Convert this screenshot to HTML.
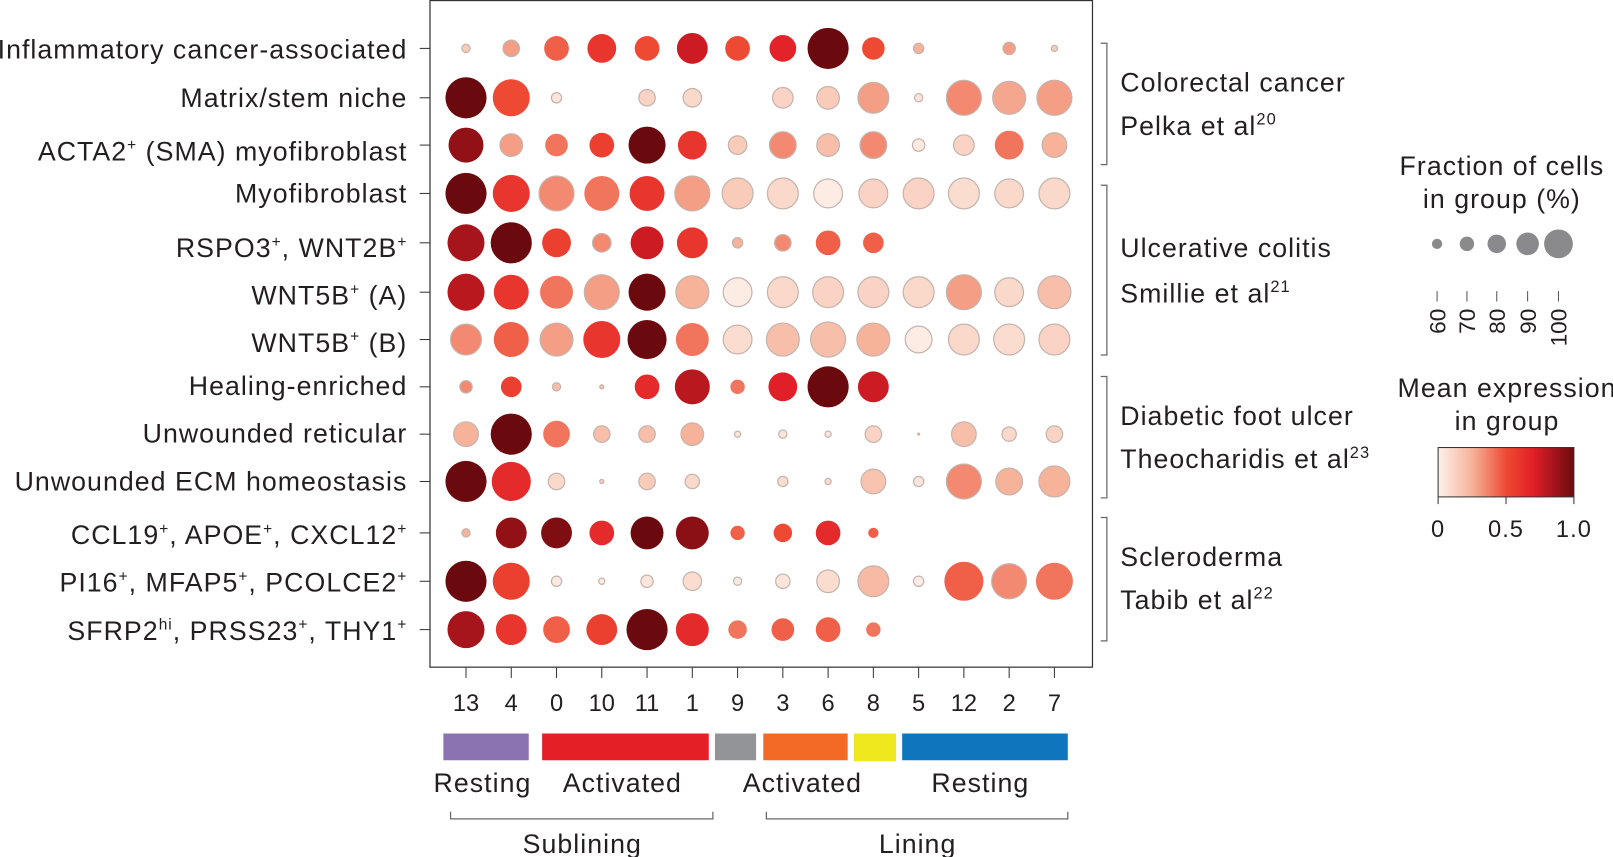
<!DOCTYPE html>
<html><head><meta charset="utf-8"><style>
html,body{margin:0;padding:0;background:#fff;}
svg{display:block;}
text{font-family:"Liberation Sans",sans-serif;fill:#231f20;}
.w{letter-spacing:1px;}
</style></head><body>
<svg id="s" width="1613" height="857" viewBox="0 0 1568 833" xmlns="http://www.w3.org/2000/svg">
<rect x="418" y="0.5" width="644" height="648" fill="none" stroke="#333" stroke-width="1.2"/>
<g font-size="26" text-anchor="end" class="w">
<text x="396" y="57">Inflammatory cancer-associated</text>
<text x="396" y="104">Matrix/stem niche</text>
<text x="396" y="156">ACTA2<tspan font-size="15" dy="-10">+</tspan><tspan dy="10"> (SMA) myofibroblast</tspan></text>
<text x="396" y="197">Myofibroblast</text>
<text x="396" y="250">RSPO3<tspan font-size="15" dy="-10">+</tspan><tspan dy="10">, WNT2B</tspan><tspan font-size="15" dy="-10">+</tspan></text>
<text x="396" y="296">WNT5B<tspan font-size="15" dy="-10">+</tspan><tspan dy="10"> (A)</tspan></text>
<text x="396" y="342">WNT5B<tspan font-size="15" dy="-10">+</tspan><tspan dy="10"> (B)</tspan></text>
<text x="396" y="384">Healing-enriched</text>
<text x="396" y="430">Unwounded reticular</text>
<text x="396" y="477">Unwounded ECM homeostasis</text>
<text x="396" y="529">CCL19<tspan font-size="15" dy="-10">+</tspan><tspan dy="10">, APOE</tspan><tspan font-size="15" dy="-10">+</tspan><tspan dy="10">, CXCL12</tspan><tspan font-size="15" dy="-10">+</tspan></text>
<text x="396" y="575">PI16<tspan font-size="15" dy="-10">+</tspan><tspan dy="10">, MFAP5</tspan><tspan font-size="15" dy="-10">+</tspan><tspan dy="10">, PCOLCE2</tspan><tspan font-size="15" dy="-10">+</tspan></text>
<text x="396" y="622">SFRP2<tspan font-size="15" dy="-10">hi</tspan><tspan dy="10">, PRSS23</tspan><tspan font-size="15" dy="-10">+</tspan><tspan dy="10">, THY1</tspan><tspan font-size="15" dy="-10">+</tspan></text>
</g>
<g id="ticks" stroke="#333" stroke-width="1"></g>
<g id="dots"></g>
<g font-size="23" text-anchor="middle">
<text x="453" y="691">13</text><text x="497" y="691">4</text><text x="541" y="691">0</text><text x="585" y="691">10</text><text x="629" y="691">11</text><text x="673" y="691">1</text><text x="717" y="691">9</text><text x="761" y="691">3</text><text x="805" y="691">6</text><text x="849" y="691">8</text><text x="893" y="691">5</text><text x="937" y="691">12</text><text x="981" y="691">2</text><text x="1025" y="691">7</text>
</g>
<g fill="none" stroke="#666" stroke-width="1.2">
<path d="M1070 42H1076V160H1070"/><path d="M1070 180H1076V345H1070"/><path d="M1070 366H1076V484H1070"/><path d="M1070 503H1076V623H1070"/>
<path d="M438 789V796H693V789"/><path d="M745 789V796H1038V789"/>
</g>
<g font-size="26" class="w">
<text x="1089" y="89">Colorectal cancer</text>
<text x="1089" y="131">Pelka et al<tspan font-size="16" dy="-10">20</tspan></text>
<text x="1089" y="250">Ulcerative colitis</text>
<text x="1089" y="294">Smillie et al<tspan font-size="16" dy="-10">21</tspan></text>
<text x="1089" y="413">Diabetic foot ulcer</text>
<text x="1089" y="455">Theocharidis et al<tspan font-size="16" dy="-10">23</tspan></text>
<text x="1089" y="550">Scleroderma</text>
<text x="1089" y="592">Tabib et al<tspan font-size="16" dy="-10">22</tspan></text>
</g>
<g font-size="26" text-anchor="middle" class="w">
<text x="1460" y="170">Fraction of cells</text>
<text x="1460" y="202">in group (%)</text>
<text x="1465" y="386">Mean expression</text>
<text x="1465" y="418">in group</text>
</g>
<g fill="#8a8a8c"><circle cx="1397" cy="237" r="5"/><circle cx="1426" cy="237" r="7"/><circle cx="1455" cy="237" r="9"/><circle cx="1485" cy="237" r="11"/><circle cx="1515" cy="237" r="14"/></g>
<g stroke="#555" stroke-width="1"><path d="M1397 283v10M1426 283v10M1455 283v10M1485 283v10M1515 283v10"/></g>
<g font-size="22" text-anchor="end">
<text transform="translate(1405,300) rotate(-90)">60</text>
<text transform="translate(1434,300) rotate(-90)">70</text>
<text transform="translate(1463,300) rotate(-90)">80</text>
<text transform="translate(1493,300) rotate(-90)">90</text>
<text transform="translate(1523,300) rotate(-90)">100</text>
</g>
<defs><linearGradient id="cb" x1="0" x2="1"><stop offset="0" stop-color="#fdf1ea"/><stop offset="0.25" stop-color="#f6b39a"/><stop offset="0.5" stop-color="#ee4a33"/><stop offset="0.7" stop-color="#e11f28"/><stop offset="1" stop-color="#6b0a0e"/></linearGradient></defs>
<rect x="1398" y="435" width="132" height="48" fill="url(#cb)" stroke="#333" stroke-width="1"/>
<path d="M1398 483v7M1464 483v7M1530 483v7" stroke="#333"/>
<g font-size="23" text-anchor="middle" class="w"><text x="1398" y="522">0</text><text x="1464" y="522">0.5</text><text x="1530" y="522">1.0</text></g>
<rect x="431" y="713" width="83" height="26" fill="#8b72b0"/>
<rect x="527" y="713" width="162" height="26" fill="#e41f26"/>
<rect x="695" y="713" width="40" height="26" fill="#929497"/>
<rect x="742" y="713" width="82" height="26" fill="#f26a25"/>
<rect x="830" y="713" width="41" height="27" fill="#f0e81f"/>
<rect x="877" y="713" width="161" height="26" fill="#0f75bd"/>
<g font-size="26" text-anchor="middle" class="w">
<text x="469" y="770">Resting</text><text x="605" y="770">Activated</text><text x="780" y="770">Activated</text><text x="953" y="770">Resting</text>
<text x="566" y="829">Sublining</text><text x="892" y="829">Lining</text>
</g>
</svg>
<script>
var rows=[
[[4,.15],[8,.3],[12,.45],[14,.6],[12,.5],[15,.75],[12,.5],[13,.68],[20,1],[11,.5],[5,.25],null,[6,.3],[3,.15]],
[[20,1],[18,.5],[5,.05],null,[8,.12],[9,.1],null,[10,.12],[11,.15],[15,.3],[4,.05],[17,.35],[16,.28],[17,.3]],
[[17,.9],[11,.3],[11,.4],[12,.55],[18,1],[14,.6],[9,.15],[13,.35],[11,.2],[13,.35],[6,.03],[10,.12],[14,.4],[12,.25]],
[[20,1],[18,.6],[17,.35],[17,.4],[17,.6],[17,.3],[15,.15],[15,.1],[14,.02],[14,.12],[15,.12],[15,.08],[14,.1],[15,.1]],
[[18,.85],[20,1],[14,.55],[9,.35],[16,.75],[15,.6],[5,.25],[8,.35],[12,.45],[10,.45]],
[[18,.8],[17,.6],[16,.4],[17,.3],[18,1],[16,.25],[14,.02],[15,.1],[15,.12],[15,.12],[15,.1],[17,.3],[14,.1],[16,.2]],
[[15,.35],[17,.45],[16,.3],[18,.6],[19,1],[16,.4],[14,.08],[16,.2],[17,.2],[16,.25],[13,.02],[15,.1],[15,.08],[15,.12]],
[[6,.35],[10,.55],[4,.2],[2,.2],[12,.65],[17,.8],[7,.4],[14,.7],[20,1],[15,.75]],
[[12,.25],[20,1],[13,.4],[8,.2],[8,.2],[11,.25],[3,.05],[4,.05],[3,.05],[8,.12],[1,.1],[12,.2],[7,.1],[8,.12]],
[[20,1],[19,.65],[8,.1],[2,.15],[8,.15],[7,.1],null,[5,.08],[3,.08],[12,.18],[5,.05],[17,.35],[13,.25],[15,.25]],
[[4,.25],[15,.9],[15,.95],[12,.65],[16,1],[16,.92],[7,.45],[9,.5],[12,.65],[5,.45]],
[[20,1],[18,.55],[5,.03],[3,.03],[6,.05],[9,.08],[4,.03],[7,.05],[11,.08],[15,.22],[5,.02],[19,.45],[17,.35],[18,.4]],
[[18,.85],[15,.6],[13,.45],[15,.55],[20,1],[16,.65],[9,.4],[11,.45],[12,.45],[7,.4]]];
var ys=[47,95,141,188,236,284,330,376,422,468,518,565,612];
var stops=[[0,[253,241,234]],[.25,[246,179,154]],[.5,[238,74,51]],[.7,[225,31,40]],[1,[107,10,14]]];
function col(v){for(var i=1;i<stops.length;i++){if(v<=stops[i][0]){var a=stops[i-1],b=stops[i],t=(v-a[0])/(b[0]-a[0]);return 'rgb('+a[1].map(function(x,k){return Math.round(x+(b[1][k]-x)*t)}).join(',')+')';}}return 'rgb(107,10,14)';}
var ns='http://www.w3.org/2000/svg',g=document.getElementById('dots'),tk=document.getElementById('ticks');
rows.forEach(function(r,i){r.forEach(function(d,j){if(!d)return;var c=document.createElementNS(ns,'circle');c.setAttribute('cx',453+44*j);c.setAttribute('cy',ys[i]);c.setAttribute('r',d[0]);c.setAttribute('fill',col(d[1]));c.setAttribute('stroke',d[1]<.4?'#c4b4ae':'none');c.setAttribute('stroke-width','1.2');g.appendChild(c);});
var l=document.createElementNS(ns,'line');l.setAttribute('x1',408);l.setAttribute('x2',418);l.setAttribute('y1',ys[i]);l.setAttribute('y2',ys[i]);tk.appendChild(l);});
for(var j=0;j<14;j++){var l=document.createElementNS(ns,'line');l.setAttribute('x1',453+44*j);l.setAttribute('x2',453+44*j);l.setAttribute('y1',649);l.setAttribute('y2',659);tk.appendChild(l);}
</script>
</body></html>
